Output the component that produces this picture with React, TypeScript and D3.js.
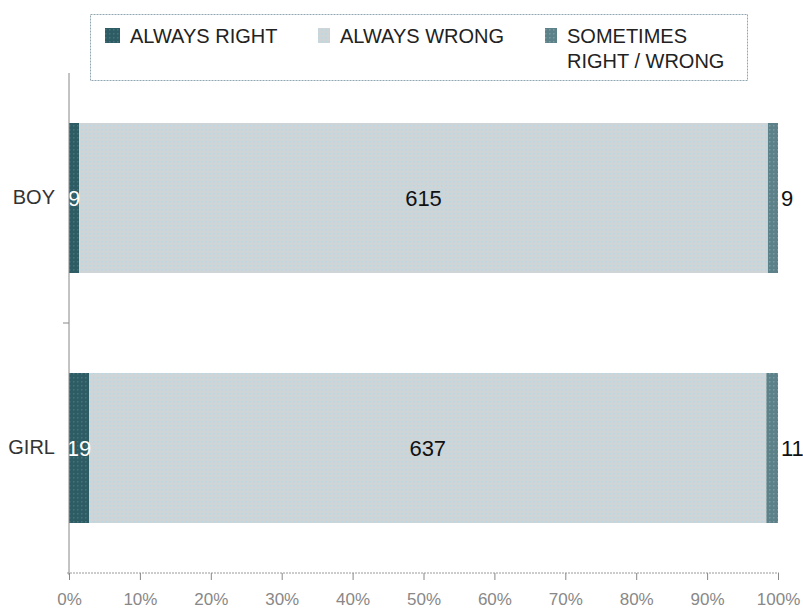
import { useEffect, useRef } from 'react';
import * as d3 from 'd3';

const categories = ['BOY', 'GIRL'];
const seriesNames = ['ALWAYS RIGHT', 'ALWAYS WRONG', 'SOMETIMES RIGHT / WRONG'];
const alwaysRight = [9, 19];
const alwaysWrong = [615, 637];
const sometimes = [9, 11];
const xTicks = [0, 0.1, 0.2, 0.3, 0.4, 0.5, 0.6, 0.7, 0.8, 0.9, 1];

const colors = ['#2e5c65', '#cfd4d7', '#5d8189'];
const dots = ['#46747d', '#a9dcee', '#7a9ba2'];

export default function App() {
  const svgRef = useRef<SVGSVGElement>(null);

  useEffect(() => {
    if (!svgRef.current) return;
    const svg = d3.select(svgRef.current);
    svg.selectAll('*').remove();

    const width = 803;
    const height = 608;
    const margin = { top: 73, right: 25, bottom: 35, left: 69 };
    const font = 'Liberation Sans, Arial, sans-serif';

    svg.attr('width', width).attr('height', height);

    // dotted textures like the source image
    const defs = svg.append('defs');
    colors.forEach((c, i) => {
      const p = defs
        .append('pattern')
        .attr('id', `pat${i}`)
        .attr('width', 4)
        .attr('height', 4)
        .attr('patternUnits', 'userSpaceOnUse');
      p.append('rect').attr('width', 4).attr('height', 4).attr('fill', c);
      p.append('rect').attr('x', 1).attr('y', 1).attr('width', 1.5).attr('height', 1.5).attr('fill', dots[i]);
    });

    const x = d3.scaleLinear().domain([0, 1]).range([margin.left, width - margin.right]);
    const y = d3
      .scaleBand()
      .domain(categories)
      .range([margin.top, height - margin.bottom])
      .paddingInner(0.4)
      .paddingOuter(0.2);

    const rows = categories.map((c, i) => {
      const vals = [alwaysRight[i], alwaysWrong[i], sometimes[i]];
      const total = d3.sum(vals);
      let acc = 0;
      return vals.map((v, k) => {
        const s = { cat: c, k, v, x0: acc / total, x1: (acc + v) / total };
        acc += v;
        return s;
      });
    });

    const segs = rows.flat();

    svg
      .append('g')
      .selectAll('rect')
      .data(segs)
      .enter()
      .append('rect')
      .attr('x', (d) => x(d.x0))
      .attr('y', (d) => y(d.cat) as number)
      .attr('width', (d) => x(d.x1) - x(d.x0))
      .attr('height', y.bandwidth())
      .attr('fill', (d) => `url(#pat${d.k})`);

    // value labels
    svg
      .append('g')
      .selectAll('text')
      .data(segs)
      .enter()
      .append('text')
      .attr('x', (d) => (d.k === 2 ? x(d.x1) + 3 : (x(d.x0) + x(d.x1)) / 2))
      .attr('y', (d) => (y(d.cat) as number) + y.bandwidth() / 2)
      .attr('dy', '0.36em')
      .attr('text-anchor', (d) => (d.k === 2 ? 'start' : 'middle'))
      .style('font-family', font)
      .style('font-size', '22px')
      .style('fill', (d) => (d.k === 0 ? '#ffffff' : '#111'))
      .text((d) => d.v);

    // left axis
    const yAxis = svg
      .append('g')
      .attr('transform', `translate(${margin.left},0)`)
      .call(d3.axisLeft(y).tickSize(0).tickPadding(14));
    yAxis.select('.domain').attr('stroke', '#888').attr('d', `M0,${margin.top}V${height - margin.bottom + 2}`);
    yAxis
      .selectAll('text')
      .style('font-family', font)
      .style('font-size', '20px')
      .style('fill', '#333');
    yAxis
      .append('line')
      .attr('x1', -6)
      .attr('x2', 0)
      .attr('y1', (height - margin.bottom + margin.top) / 2)
      .attr('y2', (height - margin.bottom + margin.top) / 2)
      .attr('stroke', '#888');

    // bottom axis
    const xAxis = svg
      .append('g')
      .attr('transform', `translate(0,${height - margin.bottom})`)
      .call(
        d3
          .axisBottom(x)
          .tickValues(xTicks)
          .tickSize(7)
          .tickPadding(13)
          .tickFormat((d) => d3.format('.0%')(d as number))
      );
    xAxis.select('.domain').attr('stroke', '#999').attr('stroke-dasharray', '2,1').attr('d', `M${margin.left - 2},0H${x(1) + 1}`);
    xAxis.selectAll('line').attr('stroke', '#888');
    xAxis
      .selectAll('text')
      .style('font-family', font)
      .style('font-size', '17px')
      .style('fill', '#888');

    // legend
    const lg = svg.append('g');
    lg.append('rect')
      .attr('x', 90.5)
      .attr('y', 14.5)
      .attr('width', 657)
      .attr('height', 66)
      .attr('fill', '#fff')
      .attr('stroke', '#8fa7b3')
      .attr('stroke-dasharray', '2,1');
    const legX = [105, 318, 545];
    seriesNames.forEach((name, i) => {
      lg.append('rect')
        .attr('x', legX[i])
        .attr('y', 28)
        .attr('width', i === 0 ? 15 : 12)
        .attr('height', 15)
        .attr('fill', `url(#pat${i})`);
      const lines = i === 2 ? ['SOMETIMES', 'RIGHT / WRONG'] : [name];
      lines.forEach((ln, j) => {
        lg.append('text')
          .attr('x', legX[i] + (i === 0 ? 25 : 22))
          .attr('y', 43 + j * 25)
          .style('font-family', font)
          .style('font-size', '20px')
          .style('fill', '#222')
          .text(ln);
      });
    });
  }, []);

  return <svg ref={svgRef} style={{ position: 'absolute', left: 0, top: 0 }} />;
}
